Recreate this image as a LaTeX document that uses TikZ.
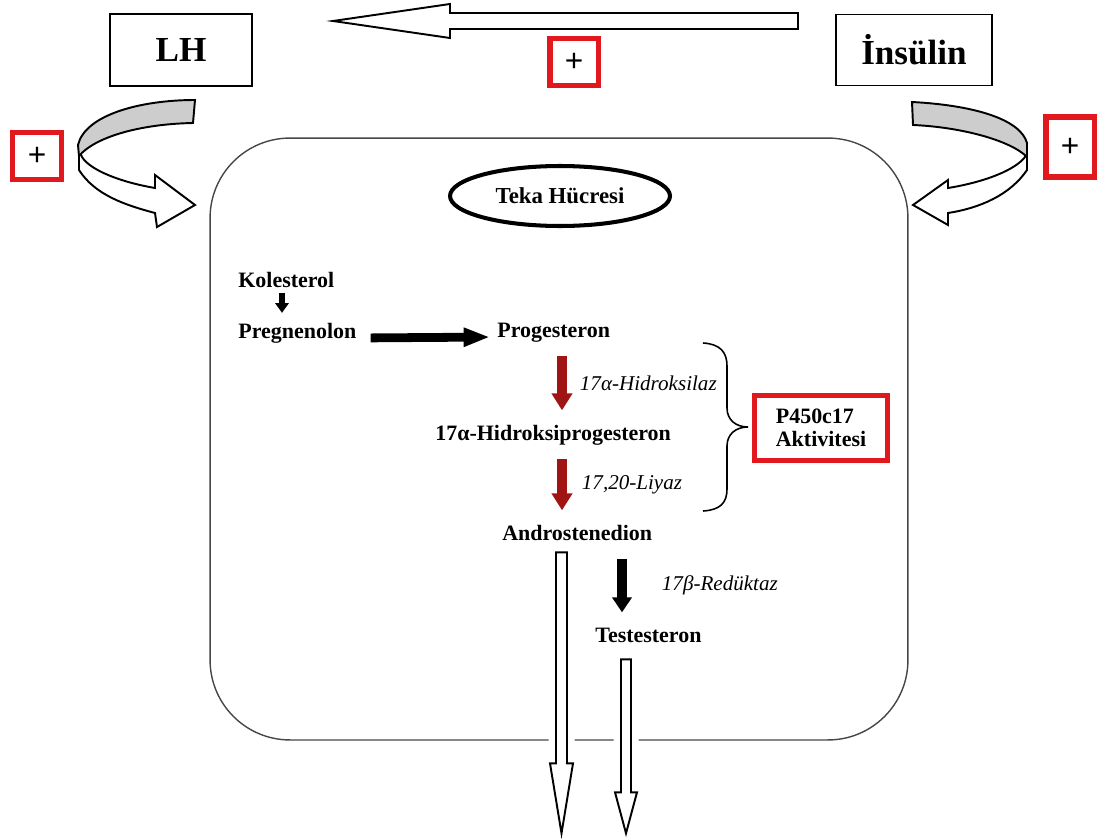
\documentclass[tikz,border=0pt]{standalone}
\usepackage{fontspec}
\setmainfont{Liberation Serif}
\setsansfont{Liberation Sans}
\usetikzlibrary{arrows.meta,shapes.geometric,positioning}
\definecolor{tekared}{RGB}{225,25,30}
\definecolor{tekadark}{RGB}{160,20,20}
\definecolor{tekaband}{RGB}{205,205,205}
\definecolor{tekaline}{RGB}{70,70,70}

\begin{document}
\begin{tikzpicture}[
    x=0.02cm, y=-0.02cm,
    every node/.style={inner sep=0pt},
    hormone/.style={draw, line width=0.7pt, font=\bfseries\fontsize{20}{24}\selectfont},
    plusbox/.style={draw=tekared, line width=3.4pt, minimum width=0.98cm, minimum height=0.94cm, font=\sffamily\fontsize{18}{20}\selectfont},
    metab/.style={anchor=base west, text height=9pt, text depth=3pt, font=\bfseries\fontsize{12.5}{14}\selectfont},
    enzyme/.style={right, text=black, font=\itshape\fontsize{12}{14}\selectfont},
    redarrow/.style={tekadark, line width=5.6pt, -{Triangle[length=9.6pt, width=11.3pt]}, shorten <=0.27cm, shorten >=0.27cm},
    blackarrow/.style={black, line width=5.6pt, -{Triangle[length=8.5pt, width=10.8pt]}, shorten <=0.27cm, shorten >=0.27cm},
    outflow/.style={draw, fill=white, line width=1.1pt, preaction={draw=white, line width=0.3cm, line join=round}},
    band/.style={draw, fill=tekaband, line width=1.1pt},
    hollow/.style={draw, fill=white, line width=1.1pt}
  ]
  \useasboundingbox (0,0) rectangle (1097,838);

  % Hormones
  \node[hormone, minimum width=2.84cm, minimum height=1.44cm] (lh) at (181,50) {LH};
  \node[hormone, minimum width=3.12cm, minimum height=1.42cm] (insulin) at (914,50) {İnsülin};
  \draw[hollow] (798,13) -- (450,13) -- (450,4) -- (333,21) -- (450,38) -- (450,29) -- (798,29) -- cycle;

  \node[plusbox] (plustop) at (574,62) {+};
  \node[plusbox] (plusleft) at (37,156) {+};
  \node[plusbox, minimum height=1.2cm] (plusright) at (1070,147) {+};

  % Cell
  \node[draw=tekaline, line width=0.8pt, rounded corners=1.6cm, minimum width=13.96cm, minimum height=12.04cm] (cell) at (559,439) {};
  \node[ellipse, draw, line width=2.3pt, minimum width=4.4cm, minimum height=1.2cm, font=\bfseries\fontsize{13}{15}\selectfont] (teka) at (560,196) {Teka Hücresi};

  % Curved arrows
  \draw[hollow] (79,150) -- (79,170) .. controls (95,195) and (125,205) .. (155,213) -- (157,227) -- (195,205) -- (155,175) -- (155,188) .. controls (120,182) and (90,170) .. (82,157) -- cycle;
  \draw[band] (195,100) .. controls (140,100) and (85,115) .. (78,145) -- (79,156) .. controls (95,137) and (140,124) .. (193,123) -- cycle;
  \draw[hollow] (1027,150) -- (1027,170) .. controls (1010,195) and (980,208) .. (948,213) -- (948,225) -- (913,205) -- (948,180) -- (948,188) .. controls (985,182) and (1015,170) .. (1025,157) -- cycle;
  \draw[band] (912,102) .. controls (970,105) and (1020,118) .. (1027,143) -- (1027,157) .. controls (1010,140) and (960,127) .. (913,125) -- cycle;

  % Steroid pathway
  \node[metab] (kolesterol) at (238,287) {Kolesterol};
  \node[metab] (pregnenolon) at (238,338) {Pregnenolon};
  \node[metab] (progesteron) at (497,337) {Progesteron};
  \node[metab] (hprog) at (435,440) {17α-Hidroksiprogesteron};
  \node[metab] (andro) at (502,540) {Androstenedion};
  \node[metab] (testo) at (595,642) {Testesteron};

  \coordinate (kcol) at (282,0);
  \coordinate (redcol) at (562,0);
  \coordinate (tcol) at (622,0);
  \coordinate (acol) at (561.5,0);
  \coordinate (bcol) at (626,0);

  \draw[black, line width=3.6pt, -{Triangle[length=5.5pt, width=7.5pt]}, shorten >=0.18cm] (kolesterol.south -| kcol) -- (pregnenolon.north -| kcol);
  \draw[black, line width=5pt, -{Triangle[length=15pt, width=10pt]}, shorten <=0.28cm, shorten >=0.14cm] (pregnenolon.base east) -- (progesteron.base west);
  \draw[redarrow] (progesteron.south -| redcol) -- node[enzyme, xshift=0.26cm] {17α-Hidroksilaz} (hprog.north -| redcol);
  \draw[redarrow] (hprog.south -| redcol) -- node[enzyme, xshift=0.3cm] {17,20-Liyaz} (andro.north -| redcol);
  \draw[blackarrow] (andro.south -| tcol) -- node[enzyme, xshift=0.7cm] {17β-Redüktaz} (testo.north -| tcol);

  % Secretion
  \draw[outflow] (andro.south -| acol) ++(-5.5,6.7) -- ++(11,0) -- ++(0,211) -- ++(6,0) -- ++(-11.5,70) -- ++(-11.5,-70) -- ++(6,0) -- cycle;
  \draw[outflow] (testo.south -| bcol) ++(-5,11.7) -- ++(10,0) -- ++(0,133) -- ++(6,0) -- ++(-11,41) -- ++(-11,-41) -- ++(6,0) -- cycle;

  % P450c17
  \node[draw=tekared, line width=2.8pt, minimum width=2.66cm, minimum height=1.3cm, align=left, font=\bfseries\fontsize{12.5}{13}\selectfont] (p450) at (821,428) {P450c17\\Aktivitesi};
  \draw[line width=0.9pt] (703,343) .. controls (720,344) and (727,352) .. (727,366) -- (727,408) .. controls (727,420) and (736,427) .. (748,427) .. controls (736,427) and (727,434) .. (727,446) -- (727,489) .. controls (727,503) and (720,510) .. (703,511);
\end{tikzpicture}
\end{document}
